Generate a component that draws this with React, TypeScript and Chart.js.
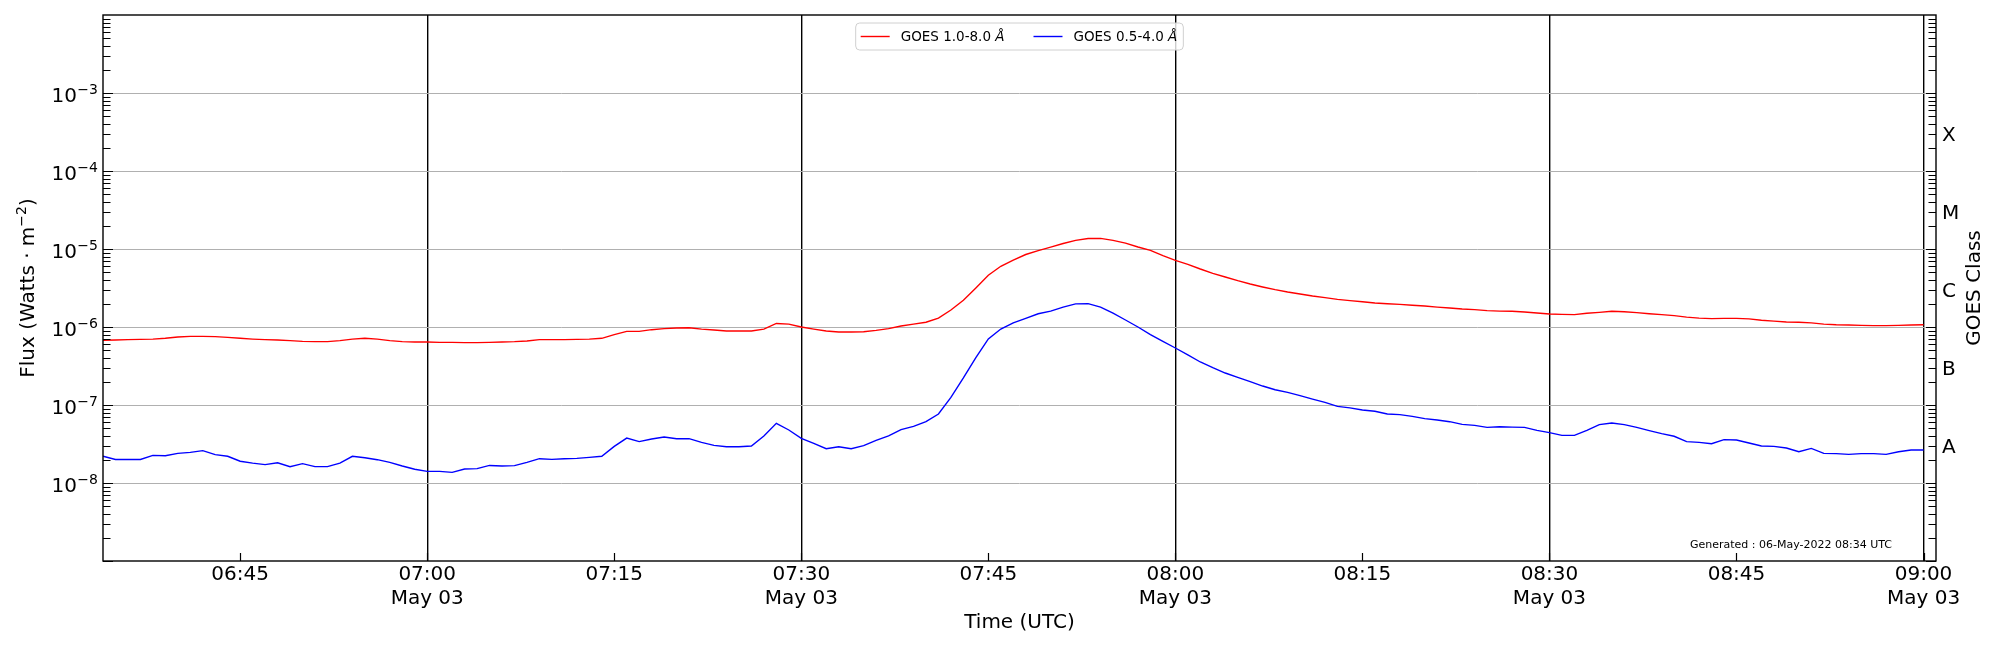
import React, { useEffect, useRef } from 'react';
import { Chart, registerables } from 'chart.js';

Chart.register(...registerables);

// GOES XRS 1-minute averages, first sample 06:34 UTC (minutes of day)
const START_MINUTE = 6 * 60 + 34;
const AXIS_MIN = 6 * 60 + 34;
const AXIS_MAX = 9 * 60 + 1;

// 1.0-8.0 A channel (W/m^2)
const longFlux = [
  6.75e-7, 6.8e-7, 6.88e-7, 6.95e-7, 7.0e-7, 7.16e-7, 7.45e-7, 7.59e-7, 7.59e-7, 7.52e-7,
  7.37e-7, 7.16e-7, 7.0e-7, 6.88e-7, 6.8e-7, 6.68e-7, 6.55e-7, 6.49e-7, 6.49e-7, 6.68e-7,
  7.0e-7, 7.16e-7, 7.0e-7, 6.68e-7, 6.49e-7, 6.42e-7, 6.42e-7, 6.36e-7, 6.36e-7, 6.3e-7,
  6.3e-7, 6.36e-7, 6.42e-7, 6.49e-7, 6.62e-7, 6.88e-7, 6.88e-7, 6.88e-7, 6.95e-7, 7.0e-7,
  7.16e-7, 7.97e-7, 8.8e-7, 8.8e-7, 9.24e-7, 9.52e-7, 9.7e-7, 9.8e-7, 9.4e-7, 9.15e-7,
  8.9e-7, 8.9e-7, 8.9e-7, 9.4e-7, 1.11e-6, 1.09e-6, 1.0e-6, 9.4e-7, 8.9e-7, 8.63e-7,
  8.63e-7, 8.7e-7, 9.06e-7, 9.52e-7, 1.03e-6, 1.09e-6, 1.15e-6, 1.3e-6, 1.65e-6, 2.2e-6,
  3.16e-6, 4.6e-6, 6.0e-6, 7.2e-6, 8.5e-6, 9.55e-6, 1.055e-5, 1.175e-5, 1.29e-5, 1.365e-5,
  1.37e-5, 1.29e-5, 1.19e-5, 1.06e-5, 9.6e-6, 8.2e-6, 7.16e-6, 6.36e-6, 5.54e-6, 4.88e-6,
  4.38e-6, 3.93e-6, 3.56e-6, 3.26e-6, 3.01e-6, 2.81e-6, 2.65e-6, 2.5e-6, 2.38e-6, 2.26e-6,
  2.18e-6, 2.11e-6, 2.03e-6, 1.99e-6, 1.95e-6, 1.9e-6, 1.86e-6, 1.8e-6, 1.75e-6, 1.7e-6,
  1.67e-6, 1.62e-6, 1.6e-6, 1.59e-6, 1.56e-6, 1.51e-6, 1.47e-6, 1.45e-6, 1.44e-6, 1.5e-6,
  1.54e-6, 1.59e-6, 1.57e-6, 1.53e-6, 1.48e-6, 1.44e-6, 1.4e-6, 1.34e-6, 1.3e-6, 1.28e-6,
  1.29e-6, 1.29e-6, 1.27e-6, 1.22e-6, 1.19e-6, 1.16e-6, 1.15e-6, 1.13e-6, 1.09e-6, 1.07e-6,
  1.06e-6, 1.05e-6, 1.04e-6, 1.04e-6, 1.05e-6, 1.06e-6, 1.07e-6,
];

// 0.5-4.0 A channel (W/m^2)
const shortFlux = [
  2.2e-8, 2.0e-8, 2.0e-8, 2.0e-8, 2.26e-8, 2.24e-8, 2.4e-8, 2.47e-8, 2.6e-8, 2.31e-8,
  2.2e-8, 1.9e-8, 1.8e-8, 1.72e-8, 1.82e-8, 1.62e-8, 1.77e-8, 1.62e-8, 1.62e-8, 1.8e-8,
  2.2e-8, 2.11e-8, 1.99e-8, 1.84e-8, 1.65e-8, 1.5e-8, 1.41e-8, 1.41e-8, 1.37e-8, 1.51e-8,
  1.53e-8, 1.68e-8, 1.65e-8, 1.67e-8, 1.84e-8, 2.05e-8, 2.01e-8, 2.05e-8, 2.07e-8, 2.13e-8,
  2.2e-8, 2.95e-8, 3.77e-8, 3.39e-8, 3.66e-8, 3.89e-8, 3.7e-8, 3.7e-8, 3.32e-8, 3.04e-8,
  2.92e-8, 2.92e-8, 2.98e-8, 4.01e-8, 5.82e-8, 4.78e-8, 3.74e-8, 3.23e-8, 2.75e-8, 2.92e-8,
  2.75e-8, 3.01e-8, 3.52e-8, 4.01e-8, 4.83e-8, 5.33e-8, 6.11e-8, 7.67e-8, 1.25e-7, 2.22e-7,
  4.06e-7, 7.04e-7, 9.41e-7, 1.13e-6, 1.29e-6, 1.48e-6, 1.6e-6, 1.8e-6, 1.98e-6, 1.99e-6,
  1.8e-6, 1.51e-6, 1.23e-6, 1.0e-6, 7.98e-7, 6.55e-7, 5.38e-7, 4.38e-7, 3.56e-7, 3.01e-7,
  2.57e-7, 2.26e-7, 1.99e-7, 1.75e-7, 1.57e-7, 1.45e-7, 1.32e-7, 1.19e-7, 1.08e-7, 9.6e-8,
  9.2e-8, 8.63e-8, 8.3e-8, 7.67e-8, 7.52e-8, 7.16e-8, 6.68e-8, 6.43e-8, 6.11e-8, 5.65e-8,
  5.48e-8, 5.17e-8, 5.27e-8, 5.2e-8, 5.17e-8, 4.73e-8, 4.42e-8, 4.08e-8, 4.08e-8, 4.73e-8,
  5.6e-8, 5.88e-8, 5.6e-8, 5.17e-8, 4.69e-8, 4.29e-8, 3.97e-8, 3.39e-8, 3.32e-8, 3.19e-8,
  3.6e-8, 3.56e-8, 3.26e-8, 2.98e-8, 2.95e-8, 2.81e-8, 2.52e-8, 2.78e-8, 2.4e-8, 2.38e-8,
  2.33e-8, 2.38e-8, 2.38e-8, 2.33e-8, 2.52e-8, 2.65e-8, 2.65e-8,
];

const seriesLabels = ['GOES 1.0-8.0 ', 'GOES 0.5-4.0 '];
const seriesColors = ['#ff0000', '#0000ff'];

// x ticks every 15 min, 06:45 .. 09:00
const timeTicks = [405, 420, 435, 450, 465, 480, 495, 510, 525, 540];
const dateLabel = 'May 03';

// y axis
const Y_MIN = 1e-9;
const Y_MAX = 1e-2;
const decadeExponents = [-8, -7, -6, -5, -4, -3];
const classTicks = [3.16e-8, 3.16e-7, 3.16e-6, 3.16e-5, 3.16e-4];
const classLabels = ['A', 'B', 'C', 'M', 'X'];

const generatedText = 'Generated : 06-May-2022 08:34 UTC';
const FONT = 'DejaVu Sans';

const pad2 = (n: number) => String(n).padStart(2, '0');
const fmtTime = (m: number) => `${pad2(Math.floor(m / 60))}:${pad2(m % 60)}`;

const decorations = {
  id: 'goesDecor',
  afterDraw(chart: any) {
    const { ctx, chartArea } = chart;
    const { left, right, top, bottom } = chartArea;
    const y = chart.scales.y;
    const x = chart.scales.x;
    ctx.save();

    // log tick marks, inward on both sides
    ctx.strokeStyle = '#000';
    ctx.lineWidth = 1.2;
    ctx.beginPath();
    for (let e = -9; e <= -3; e++) {
      for (let k = 1; k <= 9; k++) {
        const v = k * Math.pow(10, e);
        if (v < Y_MIN || v > Y_MAX) continue;
        const py = Math.round(y.getPixelForValue(v)) + 0.5;
        const len = k === 1 ? 10 : 7.5;
        ctx.moveTo(left, py);
        ctx.lineTo(left + len, py);
        ctx.moveTo(right, py);
        ctx.lineTo(right - len, py);
      }
    }
    // time ticks, inward from the bottom
    timeTicks.forEach((t) => {
      const px = Math.round(x.getPixelForValue(t)) + 0.5;
      ctx.moveTo(px, bottom);
      ctx.lineTo(px, bottom - 8);
    });
    ctx.stroke();

    // frame
    ctx.lineWidth = 1.4;
    ctx.strokeRect(left, top, right - left, bottom - top);

    // y tick labels 10^n
    ctx.fillStyle = '#000';
    decadeExponents.forEach((e) => {
      const py = y.getPixelForValue(Math.pow(10, e));
      const expText = '\u2212' + String(-e);
      ctx.font = `14px "${FONT}"`;
      const expW = ctx.measureText(expText).width;
      const xEnd = left - 5;
      ctx.textAlign = 'left';
      ctx.textBaseline = 'alphabetic';
      ctx.fillText(expText, xEnd - expW, py + 0.5);
      ctx.font = `20px "${FONT}"`;
      ctx.textAlign = 'right';
      ctx.fillText('10', xEnd - expW - 0.5, py + 8.5);
    });

    // left axis title with superscript
    const cy = (top + bottom) / 2;
    ctx.save();
    ctx.translate(34, cy);
    ctx.rotate(-Math.PI / 2);
    ctx.textAlign = 'left';
    ctx.textBaseline = 'alphabetic';
    const partA = 'Flux (Watts \u00b7 m';
    const partB = '\u22122';
    const partC = ')';
    ctx.font = `20px "${FONT}"`;
    const wA = ctx.measureText(partA).width;
    const wC = ctx.measureText(partC).width;
    ctx.font = `14px "${FONT}"`;
    const wB = ctx.measureText(partB).width;
    const x0 = -(wA + wB + wC) / 2;
    ctx.font = `20px "${FONT}"`;
    ctx.fillText(partA, x0, 0);
    ctx.fillText(partC, x0 + wA + wB, 0);
    ctx.font = `14px "${FONT}"`;
    ctx.fillText(partB, x0 + wA, -8);
    ctx.restore();

    // right axis title
    ctx.save();
    ctx.translate(right + 44, cy);
    ctx.rotate(-Math.PI / 2);
    ctx.font = `20px "${FONT}"`;
    ctx.textAlign = 'center';
    ctx.textBaseline = 'alphabetic';
    ctx.fillText('GOES Class', 0, 0);
    ctx.restore();

    // legend, upper centre
    const italic = `italic 13.5px "${FONT}"`;
    const normal = `13.5px "${FONT}"`;
    const textW = seriesLabels.map((s) => {
      ctx.font = normal;
      const a = ctx.measureText(s).width;
      ctx.font = italic;
      return a + ctx.measureText('\u00c5').width;
    });
    const lineLen = 29;
    const itemW = textW.map((w) => lineLen + 11 + w);
    const gap = 29;
    const boxW = 5 + itemW[0] + gap + itemW[1] + 6;
    const boxH = 27;
    const bx = (left + right) / 2 - boxW / 2;
    const by = top + 8;
    ctx.beginPath();
    ctx.roundRect(bx, by, boxW, boxH, 4);
    ctx.fillStyle = 'rgba(255,255,255,0.8)';
    ctx.fill();
    ctx.strokeStyle = '#d0d0d0';
    ctx.lineWidth = 1;
    ctx.stroke();
    let cx = bx + 5;
    const ly = by + boxH / 2;
    seriesLabels.forEach((s, i) => {
      ctx.strokeStyle = seriesColors[i];
      ctx.lineWidth = 1.4;
      ctx.beginPath();
      ctx.moveTo(cx, ly);
      ctx.lineTo(cx + lineLen, ly);
      ctx.stroke();
      ctx.fillStyle = '#000';
      ctx.textAlign = 'left';
      ctx.textBaseline = 'middle';
      ctx.font = normal;
      const tx = cx + lineLen + 11;
      ctx.fillText(s, tx, ly + 1);
      const a = ctx.measureText(s).width;
      ctx.font = italic;
      ctx.fillText('\u00c5', tx + a, ly + 1);
      cx += itemW[i] + gap;
    });

    // generation stamp
    ctx.fillStyle = '#000';
    ctx.font = `11px "${FONT}"`;
    ctx.textAlign = 'right';
    ctx.textBaseline = 'middle';
    ctx.fillText(generatedText, right - 44, bottom - 16);

    ctx.restore();
  },
};

const GoesChart: React.FC = () => {
  const canvasRef = useRef<HTMLCanvasElement | null>(null);
  const chartRef = useRef<Chart | null>(null);

  useEffect(() => {
    if (!canvasRef.current) return;
    if (chartRef.current) chartRef.current.destroy();

    const toPoints = (arr: number[]) => arr.map((v, i) => ({ x: START_MINUTE + i, y: v }));

    chartRef.current = new Chart(canvasRef.current, {
      type: 'line',
      data: {
        datasets: [
          {
            label: seriesLabels[0],
            data: toPoints(longFlux),
            borderColor: seriesColors[0],
            borderWidth: 1.4,
            pointRadius: 0,
            tension: 0,
            yAxisID: 'y',
          },
          {
            label: seriesLabels[1],
            data: toPoints(shortFlux),
            borderColor: seriesColors[1],
            borderWidth: 1.4,
            pointRadius: 0,
            tension: 0,
            yAxisID: 'y',
          },
        ],
      },
      options: {
        animation: false,
        responsive: false,
        devicePixelRatio: 1,
        layout: { padding: { top: 15, left: 0, right: 0, bottom: 0 } },
        plugins: {
          legend: { display: false },
          tooltip: { enabled: false },
        },
        scales: {
          x: {
            type: 'linear',
            min: AXIS_MIN,
            max: AXIS_MAX,
            afterBuildTicks: (s: any) => {
              s.ticks = timeTicks.map((v) => ({ value: v }));
            },
            afterFit: (s: any) => {
              s.height = 89;
              s.paddingLeft = 0;
              s.paddingRight = 0;
            },
            ticks: {
              autoSkip: false,
              maxRotation: 0,
              padding: 2,
              color: '#000',
              font: { family: FONT, size: 20 },
              callback: (value: any) => {
                const v = Number(value);
                return v % 30 === 0 ? [fmtTime(v), dateLabel] : fmtTime(v);
              },
            },
            grid: {
              drawTicks: false,
              lineWidth: 1.4,
              color: (c: any) => (c.tick && c.tick.value % 30 === 0 ? '#000' : 'rgba(0,0,0,0)'),
            },
            border: { display: false },
            title: {
              display: true,
              text: 'Time (UTC)',
              color: '#000',
              font: { family: FONT, size: 20 },
              padding: { top: 0, bottom: 15 },
            },
          },
          y: {
            type: 'logarithmic',
            position: 'left',
            min: Y_MIN,
            max: Y_MAX,
            afterBuildTicks: (s: any) => {
              s.ticks = decadeExponents.map((e) => ({ value: Math.pow(10, e) }));
            },
            afterFit: (s: any) => {
              s.width = 103;
              s.paddingTop = 0;
              s.paddingBottom = 0;
            },
            ticks: { display: false },
            grid: { drawTicks: false, color: '#b0b0b0', lineWidth: 1 },
            border: { display: false },
          },
          y2: {
            type: 'logarithmic',
            position: 'right',
            min: Y_MIN,
            max: Y_MAX,
            afterBuildTicks: (s: any) => {
              s.ticks = classTicks.map((v) => ({ value: v }));
            },
            afterFit: (s: any) => {
              s.width = 64;
              s.paddingTop = 0;
              s.paddingBottom = 0;
            },
            ticks: {
              padding: 6,
              labelOffset: 4,
              color: '#000',
              font: { family: FONT, size: 20 },
              callback: (_v: any, i: number) => classLabels[i],
            },
            grid: { drawOnChartArea: false, drawTicks: false },
            border: { display: false },
          },
        },
      },
      plugins: [decorations],
    } as any);

    return () => {
      if (chartRef.current) {
        chartRef.current.destroy();
        chartRef.current = null;
      }
    };
  }, []);

  return (
    <div style={{ position: 'absolute', left: 0, top: 0, width: 2000, height: 650, background: '#fff' }}>
      <canvas ref={canvasRef} width={2000} height={650} style={{ display: 'block' }} />
    </div>
  );
};

export default function App() {
  return <GoesChart />;
}
